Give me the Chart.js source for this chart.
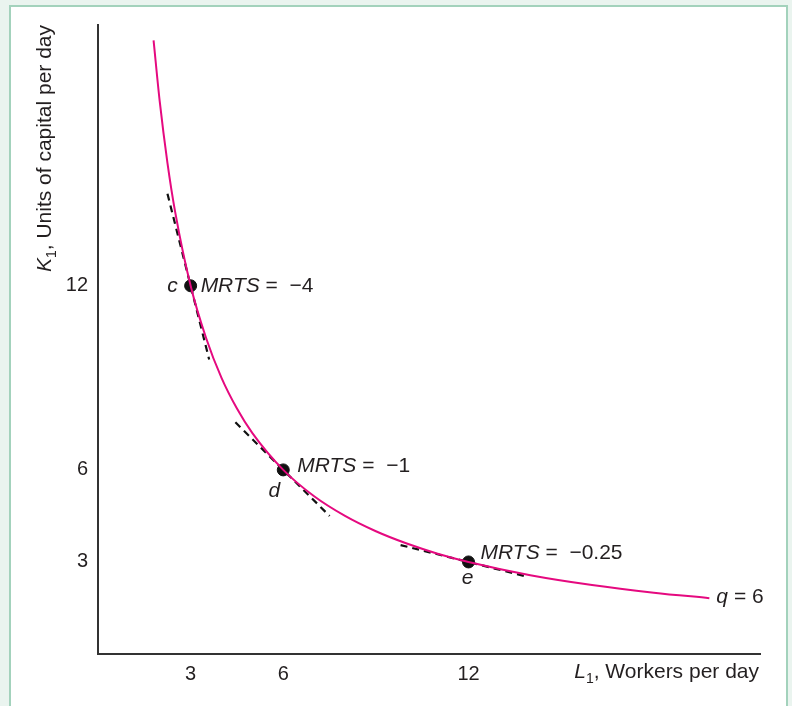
<!DOCTYPE html>
<html>
<head>
<meta charset="utf-8">
<script src="https://cdn.jsdelivr.net/npm/chart.js@4.4.1/dist/chart.umd.min.js"></script>
<style>
  html, body { margin: 0; padding: 0; background: #eaf4ef; }
  #frame { position: absolute; left: 9px; top: 5px; width: 775px; height: 720px; background: #fff;
           border: 2px solid #a3d2bc; border-bottom: none; }
  #wrap { position: absolute; left: 0; top: 0; width: 792px; height: 706px; }
</style>
</head>
<body>
<div id="frame"></div>
<div id="wrap"><canvas id="chart" width="792" height="706"></canvas></div>
<script>
// isoquant q = 6
const curveL = [1.8, 2, 2.25, 2.5, 3, 3.5, 4, 4.5, 5, 6, 7, 8, 9, 10, 11, 12, 14, 16, 18, 19.8];
const curveK = [20, 18, 16, 14.4, 12, 10.3, 9, 8, 7.2, 6, 5.14, 4.5, 4, 3.6, 3.27, 3, 2.57, 2.25, 2, 1.82];

// marked points c, d, e
const pointNames = ['c', 'd', 'e'];
const pointL = [3, 6, 12];
const pointK = [12, 6, 3];
const mrtsValues = ['\u22124', '\u22121', '\u22120.25'];

// dashed tangents (start / end)
const tanStartL = [2.25, 4.45, 9.8];
const tanStartK = [15, 7.55, 3.55];
const tanEndL = [3.6, 7.5, 13.9];
const tanEndK = [9.6, 4.5, 2.52];

const xTicks = [3, 6, 12];
const yTicks = [3, 6, 12];

const FONT = '"Liberation Sans", Arial, Helvetica, sans-serif';
const INK = '#231f20';
const MAGENTA = '#e5097f';

const datasets = [{
  data: curveL.map((l, i) => ({ x: l, y: curveK[i] })),
  borderColor: MAGENTA, borderWidth: 2, pointRadius: 0, showLine: true,
  cubicInterpolationMode: 'monotone', fill: false
}];
tanStartL.forEach((l, i) => {
  datasets.push({
    data: [{ x: l, y: tanStartK[i] }, { x: tanEndL[i], y: tanEndK[i] }],
    borderColor: '#111', borderWidth: 2.2, borderDash: [7, 5], pointRadius: 0, showLine: true, fill: false
  });
});
datasets.push({
  data: pointL.map((l, i) => ({ x: l, y: pointK[i] })),
  backgroundColor: '#111', borderColor: '#111', pointRadius: 6, showLine: false
});

// draw runs of text with mixed italic / subscript
function drawRuns(ctx, runs, x, y, align) {
  const fontOf = r => (r.it ? 'italic ' : '') + (r.sub ? '14px ' : '21px ') + FONT;
  let total = 0;
  runs.forEach(r => { ctx.font = fontOf(r); r.w = ctx.measureText(r.t).width; total += r.w; });
  let cx = align === 'right' ? x - total : x;
  ctx.textAlign = 'left';
  ctx.textBaseline = 'alphabetic';
  runs.forEach(r => {
    ctx.font = fontOf(r);
    ctx.fillText(r.t, cx, y + (r.sub ? 5 : 0));
    cx += r.w;
  });
}

const labelsPlugin = {
  id: 'labels',
  afterDraw(chart) {
    const ctx = chart.ctx;
    const xs = chart.scales.x, ys = chart.scales.y;
    ctx.save();
    ctx.fillStyle = INK;
    // offsets of the point labels: [nameDx, nameDy, nameAlign, mrtsDx, mrtsDy]
    const offs = [
      [-13, 6, 'right', 10, 6],
      [-9, 27, 'center', 14, 2],
      [-1, 22, 'center', 12, -3]
    ];
    pointNames.forEach((n, i) => {
      const px = xs.getPixelForValue(pointL[i]);
      const py = ys.getPixelForValue(pointK[i]);
      const o = offs[i];
      ctx.font = 'italic 21px ' + FONT;
      ctx.textAlign = o[2];
      ctx.textBaseline = 'alphabetic';
      ctx.fillText(n, px + o[0], py + o[1]);
      drawRuns(ctx, [{ t: 'MRTS', it: true }, { t: ' =  ' + mrtsValues[i] }], px + o[3], py + o[4], 'left');
    });
    // curve label
    const ex = xs.getPixelForValue(curveL[curveL.length - 1]);
    const ey = ys.getPixelForValue(curveK[curveK.length - 1]);
    drawRuns(ctx, [{ t: 'q', it: true }, { t: ' = 6' }], ex + 7, ey + 5, 'left');
    // axis titles
    drawRuns(ctx, [{ t: 'L', it: true }, { t: '1', sub: true }, { t: ', Workers per day' }], xs.right - 1, 678, 'right');
    ctx.translate(51, ys.top);
    ctx.rotate(-Math.PI / 2);
    drawRuns(ctx, [{ t: 'K', it: true }, { t: '1', sub: true }, { t: ', Units of capital per day' }], 0, 0, 'right');
    ctx.restore();
  }
};

new Chart(document.getElementById('chart'), {
  type: 'scatter',
  data: { datasets },
  options: {
    responsive: false,
    animation: false,
    layout: { padding: { top: 25, right: 32, left: 0, bottom: 0 } },
    plugins: { legend: { display: false }, tooltip: { enabled: false } },
    scales: {
      x: {
        type: 'linear', min: 0, max: 21.44,
        afterBuildTicks: s => { s.ticks = xTicks.map(v => ({ value: v })); },
        afterFit: s => { s.height = 52; },
        grid: { display: false, drawTicks: false },
        border: { display: true, color: '#333', width: 2 },
        ticks: { padding: 8, color: INK, font: { family: FONT, size: 20 } }
      },
      y: {
        type: 'linear', min: 0, max: 20.5,
        afterBuildTicks: s => { s.ticks = yTicks.map(v => ({ value: v })); },
        afterFit: s => { s.width = 98; },
        grid: { display: false, drawTicks: false },
        border: { display: true, color: '#333', width: 2 },
        ticks: { padding: 10, color: INK, font: { family: FONT, size: 20 } }
      }
    }
  },
  plugins: [labelsPlugin]
});
</script>
</body>
</html>
